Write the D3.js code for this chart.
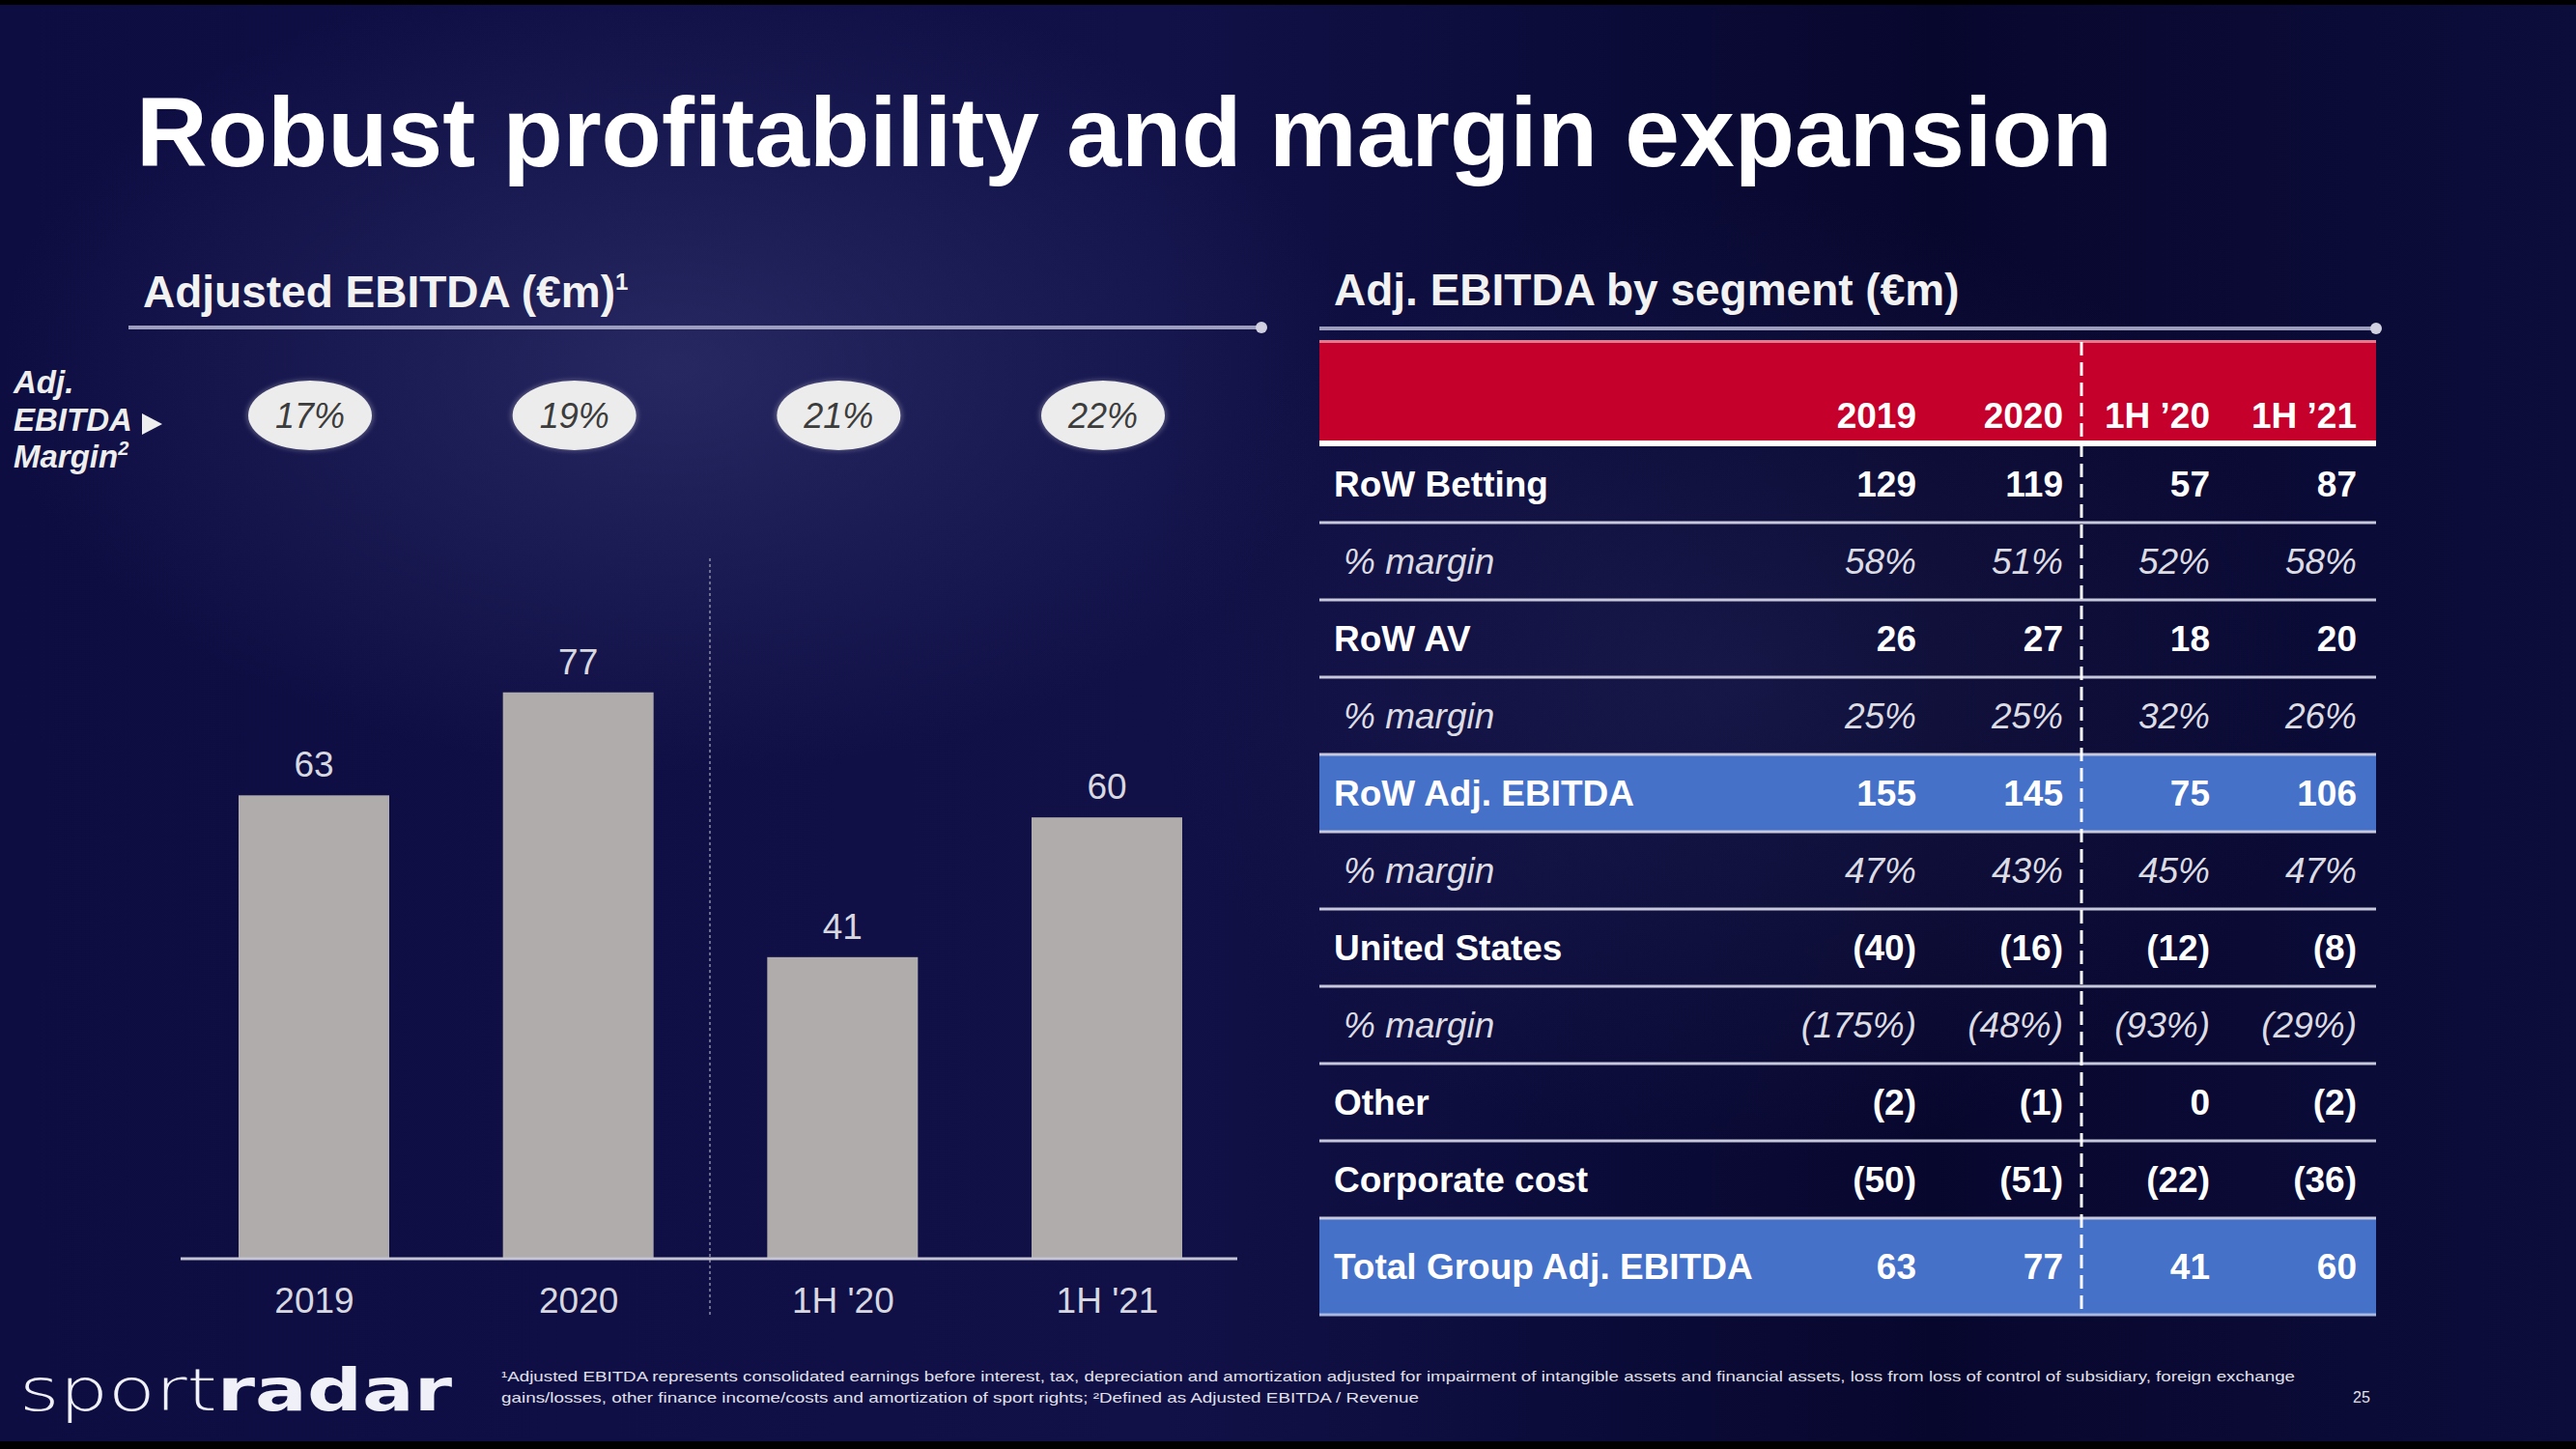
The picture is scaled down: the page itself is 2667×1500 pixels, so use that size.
<!DOCTYPE html>
<html>
<head>
<meta charset="utf-8">
<script src="https://cdn.jsdelivr.net/npm/d3@7"></script>
<style>
  html, body { margin: 0; padding: 0; background: #0b0b3a; }
  svg { display: block; }
</style>
</head>
<body>
<svg id="chart" width="2667" height="1500"></svg>
<script>
// ---------- DATA ----------
const barCategories = ["2019", "2020", "1H '20", "1H '21"];
const barValues = [63, 77, 41, 60];
const marginLabels = ["17%", "19%", "21%", "22%"];

const tableColumns = ["2019", "2020", "1H \u201920", "1H \u201921"];
const rowLabels = ["RoW Betting", "% margin", "RoW AV", "% margin", "RoW Adj. EBITDA",
                   "% margin", "United States", "% margin", "Other", "Corporate cost",
                   "Total Group Adj. EBITDA"];
const rowKinds = ["bold", "margin", "bold", "margin", "highlight",
                  "margin", "bold", "margin", "bold", "bold", "total"];
const col2019 = ["129", "58%", "26", "25%", "155", "47%", "(40)", "(175%)", "(2)", "(50)", "63"];
const col2020 = ["119", "51%", "27", "25%", "145", "43%", "(16)", "(48%)", "(1)", "(51)", "77"];
const col1H20 = ["57", "52%", "18", "32%", "75", "45%", "(12)", "(93%)", "0", "(22)", "41"];
const col1H21 = ["87", "58%", "20", "26%", "106", "47%", "(8)", "(29%)", "(2)", "(36)", "60"];

const titleText = "Robust profitability and margin expansion";
const leftHeading = "Adjusted EBITDA (\u20acm)";
const rightHeading = "Adj. EBITDA by segment (\u20acm)";
const footnoteLine1 = "\u00b9Adjusted EBITDA represents consolidated earnings before interest, tax, depreciation and amortization adjusted for impairment of intangible assets and financial assets, loss from loss of control of subsidiary, foreign exchange";
const footnoteLine2 = "gains/losses, other finance income/costs and amortization of sport rights; \u00b2Defined as Adjusted EBITDA / Revenue";

// ---------- SETUP ----------
const svg = d3.select("#chart");
const W = 2667, H = 1500;
const FONT = "'Liberation Sans', Arial, Helvetica, sans-serif";

const defs = svg.append("defs");
const bg = defs.append("linearGradient").attr("id", "bgGrad").attr("x1", 0).attr("y1", 0).attr("x2", 1).attr("y2", 0);
bg.append("stop").attr("offset", "0%").attr("stop-color", "#0d0d42");
bg.append("stop").attr("offset", "45%").attr("stop-color", "#111148");
bg.append("stop").attr("offset", "75%").attr("stop-color", "#07072e");
bg.append("stop").attr("offset", "100%").attr("stop-color", "#0d0d3c");
const glow = defs.append("radialGradient").attr("id", "glow").attr("cx", 0.5).attr("cy", 0.5).attr("r", 0.5);
glow.append("stop").attr("offset", "0%").attr("stop-color", "#3a3a78").attr("stop-opacity", 0.55);
glow.append("stop").attr("offset", "100%").attr("stop-color", "#3a3a78").attr("stop-opacity", 0);
const shadow = defs.append("filter").attr("id", "soft").attr("x", "-20%").attr("y", "-20%").attr("width", "140%").attr("height", "140%");
shadow.append("feGaussianBlur").attr("stdDeviation", 2.5);

svg.append("rect").attr("width", W).attr("height", H).attr("fill", "url(#bgGrad)");
svg.append("ellipse").attr("cx", 700).attr("cy", 380).attr("rx", 700).attr("ry", 420).attr("fill", "url(#glow)");
svg.append("ellipse").attr("cx", 1800).attr("cy", 700).attr("rx", 600).attr("ry", 500).attr("fill", "url(#glow)").attr("opacity", 0.5);
svg.append("rect").attr("width", W).attr("height", 5).attr("fill", "#000");
svg.append("rect").attr("y", H - 8).attr("width", W).attr("height", 8).attr("fill", "#000");

// ---------- TITLE ----------
svg.append("text").attr("x", 141).attr("y", 172)
  .attr("font-family", FONT).attr("font-weight", "bold").attr("font-size", 102)
  .attr("fill", "#ffffff").text(titleText);

// ---------- SECTION HEADINGS ----------
const lh = svg.append("text").attr("x", 148).attr("y", 318)
  .attr("font-family", FONT).attr("font-weight", "bold").attr("font-size", 46)
  .attr("fill", "#f2f2f2");
lh.append("tspan").text(leftHeading);
lh.append("tspan").attr("dy", -18).attr("font-size", 24).text("1");

svg.append("text").attr("x", 1381).attr("y", 316)
  .attr("font-family", FONT).attr("font-weight", "bold").attr("font-size", 46)
  .attr("fill", "#f2f2f2").text(rightHeading);

[[133, 1306, 339], [1366, 2460, 340]].forEach(([x1, x2, y]) => {
  svg.append("line").attr("x1", x1).attr("x2", x2).attr("y1", y).attr("y2", y)
    .attr("stroke", "#9d9dbd").attr("stroke-width", 4);
  svg.append("circle").attr("cx", x2).attr("cy", y).attr("r", 6).attr("fill", "#d0d0e0");
});

// ---------- LEFT: BAR CHART ----------
const x = d3.scalePoint().domain(barCategories).range([325, 1146]);
const y = d3.scaleLinear().domain([0, 100]).range([1303, 1303 - 761.4]);
const barW = 156;

// margin label
const ml = svg.append("g").attr("font-family", FONT).attr("font-weight", "bold")
  .attr("font-style", "italic").attr("font-size", 33).attr("fill", "#eeeeee");
ml.append("text").attr("x", 14).attr("y", 407).text("Adj.");
const ebt = ml.append("text").attr("x", 14).attr("y", 446).text("EBITDA");
ml.append("path").attr("d", "M147,428 L168,439 L147,450 Z").attr("fill", "#eeeeee");
const mg = ml.append("text").attr("x", 14).attr("y", 484);
mg.append("tspan").text("Margin");
mg.append("tspan").attr("dy", -13).attr("font-size", 20).text("2");

// ellipses
const ell = svg.append("g").selectAll("g").data(barCategories).join("g");
ell.append("ellipse").attr("cx", d => x(d) - 4).attr("cy", 430).attr("rx", 66).attr("ry", 37)
  .attr("fill", "#9a9ab0").attr("opacity", 0.45).attr("filter", "url(#soft)");
ell.append("ellipse").attr("cx", d => x(d) - 4).attr("cy", 430).attr("rx", 64).attr("ry", 36)
  .attr("fill", "#ececec");
ell.append("text").attr("x", d => x(d) - 4).attr("y", 443).attr("text-anchor", "middle")
  .attr("font-family", FONT).attr("font-style", "italic").attr("font-size", 36)
  .attr("fill", "#3c3c3c").text((d, i) => marginLabels[i]);

// separator
svg.append("line").attr("x1", 735).attr("x2", 735).attr("y1", 578).attr("y2", 1362)
  .attr("stroke", "#8c8ca8").attr("stroke-width", 1.5).attr("stroke-dasharray", "3,3");

// bars
svg.append("g").selectAll("rect").data(barValues).join("rect")
  .attr("x", (d, i) => x(barCategories[i]) - barW / 2)
  .attr("y", d => y(d))
  .attr("width", barW)
  .attr("height", d => y(0) - y(d))
  .attr("fill", "#afacab");

svg.append("g").selectAll("text").data(barValues).join("text")
  .attr("x", (d, i) => x(barCategories[i]))
  .attr("y", d => y(d) - 19)
  .attr("text-anchor", "middle").attr("font-family", FONT).attr("font-size", 37)
  .attr("fill", "#d8d8e0").text(d => d);

// axis
const xAxis = d3.axisBottom(x).tickSize(0).tickPadding(0);
const ax = svg.append("g").attr("transform", `translate(0,${y(0)})`).call(xAxis);
ax.select(".domain").remove();
ax.append("line").attr("x1", 187).attr("x2", 1281).attr("y1", 0).attr("y2", 0)
  .attr("stroke", "#c4c4d4").attr("stroke-width", 3);
ax.selectAll(".tick text").attr("font-family", FONT).attr("font-size", 37)
  .attr("fill", "#d8d8e0").attr("dy", null).attr("y", 56);

// ---------- RIGHT: TABLE ----------
const tX0 = 1366, tX1 = 2460;
const colX = d3.scalePoint().domain(tableColumns).range([1984, 2440]);
const rowY = d3.scaleBand().domain(d3.range(10)).range([461, 1261]);
const totalTop = 1261, totalBottom = 1361;
const columns = [col2019, col2020, col1H20, col1H21];

// header band
svg.append("rect").attr("x", tX0).attr("y", 354).attr("width", tX1 - tX0).attr("height", 102)
  .attr("fill", "#c4002b");
svg.append("rect").attr("x", tX0).attr("y", 352).attr("width", tX1 - tX0).attr("height", 3)
  .attr("fill", "#e07a8c");
svg.append("rect").attr("x", tX0).attr("y", 456).attr("width", tX1 - tX0).attr("height", 6)
  .attr("fill", "#ffffff");
svg.append("g").selectAll("text").data(tableColumns).join("text")
  .attr("x", d => colX(d)).attr("y", 443).attr("text-anchor", "end")
  .attr("font-family", FONT).attr("font-weight", "bold").attr("font-size", 37)
  .attr("fill", "#ffffff").text(d => d);

// highlight rows
rowKinds.forEach((k, i) => {
  if (k === "highlight") {
    svg.append("rect").attr("x", tX0).attr("y", rowY(i)).attr("width", tX1 - tX0)
      .attr("height", rowY.bandwidth()).attr("fill", "#4571c9");
  }
  if (k === "total") {
    svg.append("rect").attr("x", tX0).attr("y", totalTop).attr("width", tX1 - tX0)
      .attr("height", totalBottom - totalTop).attr("fill", "#4571c9");
  }
});

// separators
d3.range(1, 11).forEach(i => {
  const yy = i < 10 ? rowY(i) : totalTop;
  svg.append("line").attr("x1", tX0).attr("x2", tX1).attr("y1", yy).attr("y2", yy)
    .attr("stroke", "#c8c8dc").attr("stroke-width", 3);
});
svg.append("line").attr("x1", tX0).attr("x2", tX1).attr("y1", totalBottom).attr("y2", totalBottom)
  .attr("stroke", "#a8b8e0").attr("stroke-width", 3);

function rowCenter(i) { return i < 10 ? rowY(i) + rowY.bandwidth() / 2 : (totalTop + totalBottom) / 2; }

// labels
svg.append("g").selectAll("text").data(rowLabels).join("text")
  .attr("x", (d, i) => rowKinds[i] === "margin" ? 1391 : 1381)
  .attr("y", (d, i) => rowCenter(i) + 13)
  .attr("font-family", FONT).attr("font-size", 37)
  .attr("font-weight", (d, i) => rowKinds[i] === "margin" ? "normal" : "bold")
  .attr("font-style", (d, i) => rowKinds[i] === "margin" ? "italic" : "normal")
  .attr("fill", (d, i) => rowKinds[i] === "margin" ? "#dcdce4" : "#ffffff")
  .text(d => d);

// values
columns.forEach((col, c) => {
  svg.append("g").selectAll("text").data(col).join("text")
    .attr("x", colX(tableColumns[c]))
    .attr("y", (d, i) => rowCenter(i) + 13)
    .attr("text-anchor", "end")
    .attr("font-family", FONT).attr("font-size", 37)
    .attr("font-weight", (d, i) => rowKinds[i] === "margin" ? "normal" : "bold")
    .attr("font-style", (d, i) => rowKinds[i] === "margin" ? "italic" : "normal")
    .attr("fill", (d, i) => rowKinds[i] === "margin" ? "#dcdce4" : "#ffffff")
    .text(d => d);
});

// dashed divider
svg.append("line").attr("x1", 2155).attr("x2", 2155).attr("y1", 354).attr("y2", 1361)
  .attr("stroke", "#ffffff").attr("stroke-width", 3).attr("stroke-dasharray", "14,7");

// ---------- FOOTER ----------
const logo = svg.append("text").attr("x", 20).attr("y", 1460)
  .attr("font-family", "'DejaVu Sans', sans-serif").attr("font-size", 60)
  .attr("fill", "#f0f0f8").attr("textLength", 448).attr("lengthAdjust", "spacingAndGlyphs");
logo.append("tspan").attr("font-weight", 200).text("sport");
logo.append("tspan").attr("font-weight", "bold").text("radar");

const fn = svg.append("g").attr("font-family", "'Liberation Sans Narrow', 'Liberation Sans', Arial, sans-serif")
  .attr("font-size", 15).attr("fill", "#e0e0ea");
fn.append("text").attr("x", 519).attr("y", 1430).attr("textLength", 1857)
  .attr("lengthAdjust", "spacingAndGlyphs").text(footnoteLine1);
fn.append("text").attr("x", 519).attr("y", 1452).attr("textLength", 950)
  .attr("lengthAdjust", "spacingAndGlyphs").text(footnoteLine2);
svg.append("text").attr("x", 2436).attr("y", 1452).attr("font-family", FONT)
  .attr("font-size", 16).attr("fill", "#e0e0ea").text("25");
</script>
</body>
</html>
